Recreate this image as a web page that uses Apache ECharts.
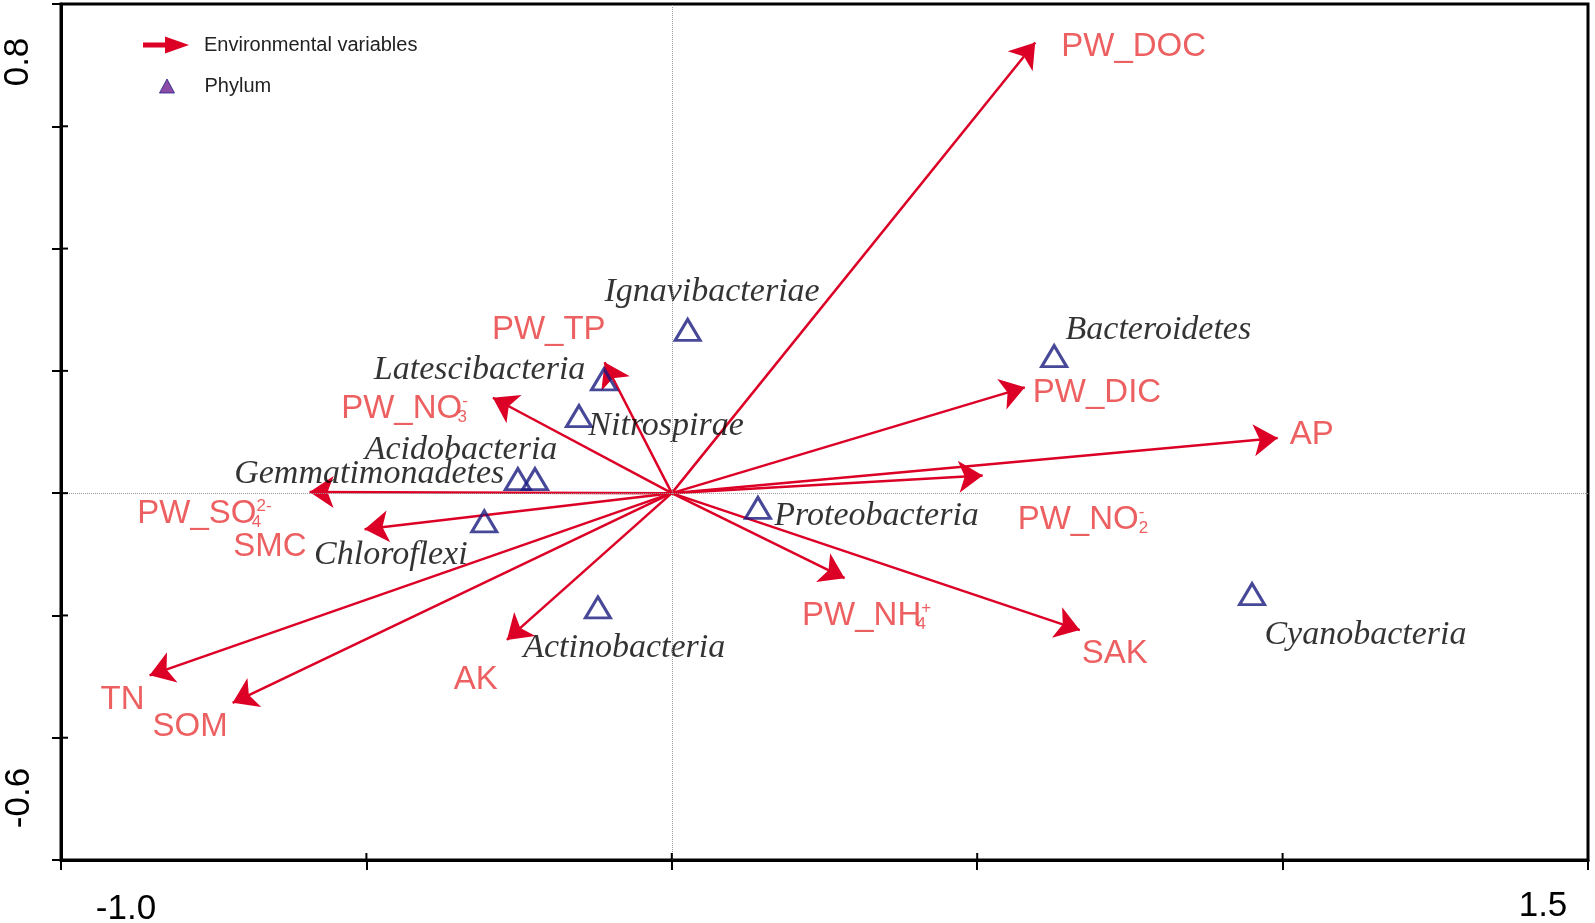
<!DOCTYPE html>
<html><head><meta charset="utf-8">
<script src="https://cdn.jsdelivr.net/npm/echarts@6/dist/echarts.min.js"></script>
<style>html,body{margin:0;padding:0;background:#fff}#c{width:1595px;height:923px}</style>
</head><body><div id="c"></div>
<script>
// ---- data ----
const envNames = ['PW_DOC','PW_TP','PW_NO3','PW_SO4','SMC','TN','SOM','AK','PW_NH4','SAK','PW_DIC','AP','PW_NO2'];
const envX = [0.595,-0.110,-0.293,-0.593,-0.503,-0.855,-0.719,-0.270,0.283,0.668,0.578,0.992,0.509];
const envY = [0.737,0.214,0.156,0.002,-0.059,-0.298,-0.343,-0.240,-0.139,-0.224,0.173,0.090,0.029];
const phylumNames = ['Ignavibacteriae','Latescibacteria','Nitrospirae','Acidobacteria','Gemmatimonadetes','Chloroflexi','Actinobacteria','Proteobacteria','Bacteroidetes','Cyanobacteria'];
const phylumX = [0.026,-0.111,-0.152,-0.224,-0.252,-0.307,-0.121,0.141,0.626,0.950];
const phylumY = [0.267,0.186,0.126,0.023,0.023,-0.046,-0.187,-0.024,0.224,-0.165];
const xTicks = [-1.0,-0.5,0,0.5,1.0,1.5];
const yTicks = [-0.6,-0.4,-0.2,0,0.2,0.4,0.6,0.8];
const xTickLabels = ['-1.0','1.5'];
const yTickLabels = ['0.8','-0.6'];

// ---- styling / label placement ----
const RED = '#dc0026', TXTRED = '#e8383a', NAVY = '#1a1a80';
const SANS = '"Liberation Sans", Arial, sans-serif';
const SERIF = '"Liberation Serif", "Times New Roman", serif';
const envLabelFmt = {
  PW_NO3: '{b|PW_NO}{subz|3}{sup|-}',
  PW_SO4: '{b|PW_SO}{subz|4}{sup|2-}',
  PW_NH4: '{b|PW_NH}{subz|4}{sup|+}',
  PW_NO2: '{b|PW_NO}{subz|2}{sup|-}'
};
const envPlace = {
  PW_DOC:['left',26,4], PW_TP:['right',1,-32], PW_NO3:['right',-25,11], PW_SO4:['right',-38,22],
  SMC:['right',-58,18], TN:['right',-5,25], SOM:['right',-5,24], AK:['right',-9,40],
  PW_NH4:['center',22,38], SAK:['center',35,24], PW_DIC:['left',8,6], AP:['left',12,-3], PW_NO2:['left',35,44]
};
const phyPlace = {
  Ignavibacteriae:['center',26,-36], Latescibacteria:['right',-17,-8], Nitrospirae:['left',11,11],
  Acidobacteria:['right',24,-28], Gemmatimonadetes:['right',-12,-4], Chloroflexi:['right',-15,35],
  Actinobacteria:['center',28,42], Proteobacteria:['left',18,10], Bacteroidetes:['left',13,-25], Cyanobacteria:['left',14,42]
};
const supSub = {fontSize:17, fontFamily:SANS, color:TXTRED};
const rich = {
  b: {fontSize:33, fontFamily:SANS, color:TXTRED, lineHeight:36},
  sup: Object.assign({verticalAlign:'top', padding:[2,0,0,0]}, supSub),
  subz: Object.assign({verticalAlign:'bottom', width:0, align:'left', padding:[0,0,1,0]}, supSub)
};

const chart = echarts.init(document.getElementById('c'), null, {renderer:'canvas'});
const tickStyle = {color:'#000', width:2};
const tickData = xTicks.map(v=>[v, -0.6, 0]).concat(yTicks.map(v=>[-1, v, 1]));
const option = {
  animation:false,
  backgroundColor:'#fff',
  grid:{left:61, right:7, top:4, bottom:63, show:true, borderColor:'#000', borderWidth:3, backgroundColor:'transparent'},
  xAxis:{type:'value', min:-1, max:1.5, interval:0.5, position:'bottom', z:4,
     axisLine:{show:true, onZero:false, lineStyle:{color:'#000', width:3}}, axisTick:{show:true, length:10, lineStyle:tickStyle},
     axisLabel:{show:false}, splitLine:{show:false}},
  yAxis:{type:'value', min:-0.6, max:0.8, interval:0.2, position:'left', z:4,
     axisLine:{show:true, onZero:false, lineStyle:{color:'#000', width:3}}, axisTick:{show:true, length:9, lineStyle:tickStyle},
     axisLabel:{show:false}, splitLine:{show:false}},
  legend:[
    {data:[{name:'Environmental variables', icon:'path://M0,5.5L22,5.5L22,0L42,7L22,14L22,8.5L0,8.5Z', itemStyle:{color:RED}}],
     left:143, top:35, padding:0, itemWidth:42, itemHeight:14, selectedMode:false,
     textStyle:{fontSize:20, fontFamily:SANS, color:'#222', padding:[0,0,0,13]}},
    {data:[{name:'Phylum', icon:'triangle', itemStyle:{color:'#6f1f8f', borderColor:'#22228a', borderWidth:1}}],
     left:159, top:76, padding:0, itemWidth:15, itemHeight:14, selectedMode:false,
     textStyle:{fontSize:20, fontFamily:SANS, color:'#222', padding:[0,0,0,25]}}
  ],
  graphic:{elements:[
    {type:'text', x:18, y:62, rotation:Math.PI/2, style:{text:yTickLabels[0], font:'35px '+SANS, fill:'#000', align:'center', verticalAlign:'middle'}},
    {type:'text', x:19, y:798, rotation:Math.PI/2, style:{text:yTickLabels[1], font:'35px '+SANS, fill:'#000', align:'center', verticalAlign:'middle'}},
    {type:'text', x:126, y:909, style:{text:xTickLabels[0], font:'35px '+SANS, fill:'#000', align:'center', verticalAlign:'middle'}},
    {type:'text', x:1543, y:906, style:{text:xTickLabels[1], font:'35px '+SANS, fill:'#000', align:'center', verticalAlign:'middle'}}
  ]},
  series:[
    {name:'Phylum', type:'scatter', symbol:'triangle', symbolSize:[25,21], z:4,
     itemStyle:{color:'rgba(0,0,0,0)', borderColor:NAVY, borderWidth:3},
     data: phylumNames.map((n,i)=>{
       const p = phyPlace[n];
       return {name:n, value:[phylumX[i], phylumY[i]],
         label:{show:true, formatter:n, position:[12.5+p[1], 10.5+p[2]], align:p[0], verticalAlign:'middle',
                fontFamily:SERIF, fontStyle:'italic', fontSize:34, color:'#000'}};
     }),
     markLine:{silent:true, symbol:'none', label:{show:false}, animation:false,
       lineStyle:{type:'dotted', color:'#9a9a9a', width:1}, data:[{xAxis:0},{yAxis:0}]}
    },
    {name:'Environmental variables', type:'lines', coordinateSystem:'cartesian2d', z:3,
     symbol:['none','arrow'], symbolSize:[0,24],
     lineStyle:{color:RED, width:2.5, opacity:1, curveness:0},
     data: envNames.map((n,i)=>({name:n, coords:[[0,0],[envX[i], envY[i]]]}))
    },
    {name:'envLabels', type:'scatter', symbolSize:1, z:5, silent:true,
     itemStyle:{color:'rgba(0,0,0,0)'},
     data: envNames.map((n,i)=>{
       const p = envPlace[n];
       return {name:n, value:[envX[i], envY[i]],
         label:{show:true, formatter: envLabelFmt[n] || ('{b|'+n+'}'), rich:rich,
                position:[0.5+p[1], 0.5+p[2]], align:p[0], verticalAlign:'middle'}};
     })
    },
    // inner half of the crossing tick marks
    {name:'innerTicks', type:'custom', coordinateSystem:'cartesian2d', z:10, silent:true, clip:false,
     data: tickData,
     encode:{x:0, y:1},
     renderItem:(params, api)=>{
       const p = api.coord([api.value(0), api.value(1)]);
       const isY = api.value(2) === 1;
       return {type:'line', shape: isY ? {x1:p[0], y1:p[1], x2:p[0]+7, y2:p[1]} : {x1:p[0], y1:p[1], x2:p[0], y2:p[1]-7},
               style:{stroke:'#000', lineWidth:2}};
     }
    }
  ]
};
chart.setOption(option);
</script></body></html>
